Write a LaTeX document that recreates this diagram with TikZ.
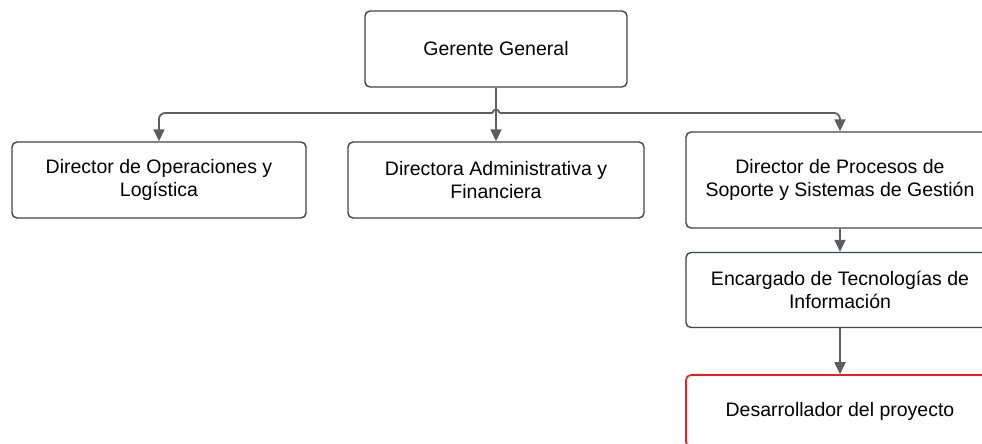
\documentclass[tikz,border=0pt]{standalone}
\usepackage{fontspec}
\setmainfont{Liberation Sans}
\usetikzlibrary{arrows.meta}
\definecolor{linegray}{HTML}{5E5E5E}
\definecolor{boxedge}{HTML}{3F444B}
\definecolor{accentred}{HTML}{F21B1B}
\begin{document}
\begin{tikzpicture}[x=1pt,y=-1pt,
  orgbox/.style={draw=boxedge, line width=1.4pt, rounded corners=5pt, fill=white,
    align=center, inner sep=0pt, font=\fontsize{19.5}{23.5}\selectfont},
  wire/.style={draw=linegray, line width=1.8pt},
  link/.style={wire, -{Triangle[length=12pt,width=11pt]}}]
  % page frame; boxes on the right run past the edge
  \clip (0,0) rectangle (982,444);
  \fill[white] (0,0) rectangle (982,444);

  % boxes
  \node[orgbox, minimum width=262pt, minimum height=76pt] (gg) at (496,49) {Gerente General};
  \node[orgbox, minimum width=294pt, minimum height=76pt] (ops) at (159,180) {Director de Operaciones y\\Logística};
  \node[orgbox, minimum width=296pt, minimum height=76pt] (adm) at (496,180) {Directora Administrativa y\\Financiera};
  \node[orgbox, minimum width=308pt, minimum height=96pt] (proc) at (840,180) {Director de Procesos de\\Soporte y Sistemas de Gestión};
  \node[orgbox, minimum width=308pt, minimum height=75pt] (enc) at (840,290) {Encargado de Tecnologías de\\Información};
  \node[orgbox, draw=accentred, line width=1.6pt, minimum width=308pt, minimum height=72pt] (dev) at (840,411) {Desarrollador del proyecto};

  % branch line with a small hop over the trunk
  \coordinate (hopL) at (492.5,113);
  \coordinate (hopR) at (499.5,113);
  \coordinate (hopLc) at (492.5,108.5);
  \coordinate (hopRc) at (499.5,108.5);

  \draw[link] (gg.south) -- (adm.north);
  \draw[link, rounded corners=6pt] (hopL) -| (ops.north);
  \draw[link, rounded corners=6pt] (hopR) -| (proc.north);
  \draw[wire] (hopL) .. controls (hopLc) and (hopRc) .. (hopR);

  \draw[link] (proc.south) -- (enc.north);
  \draw[link] (enc.south) -- (dev.north);
\end{tikzpicture}
\end{document}
